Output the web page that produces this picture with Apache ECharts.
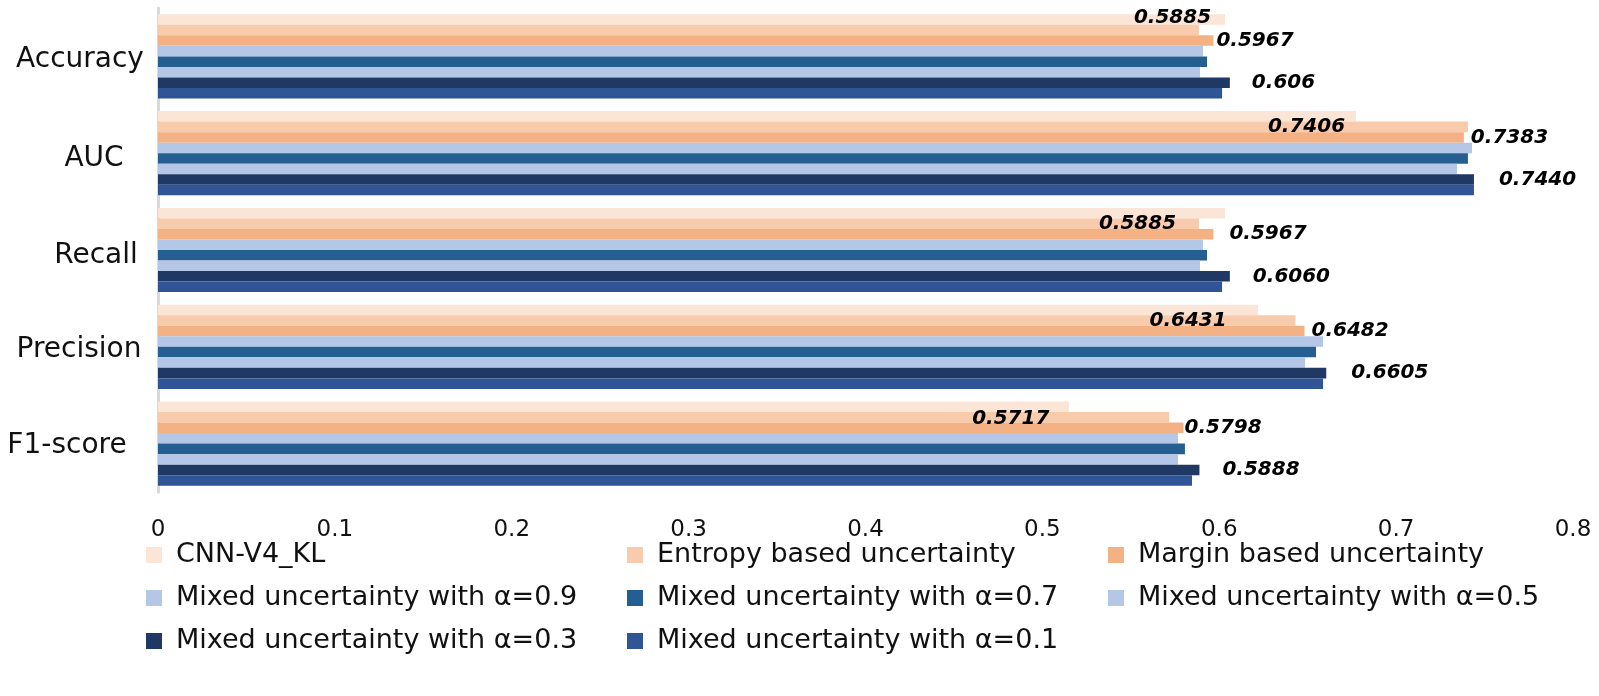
<!DOCTYPE html>
<html>
<head>
<meta charset="utf-8">
<script src="https://cdn.jsdelivr.net/npm/echarts@6/dist/echarts.min.js"></script>
<style>
html,body{margin:0;padding:0;background:#fff;}
#chart{width:1599px;height:696px;}
</style>
</head>
<body>
<div id="chart"></div>
<script>
const categories = ['Accuracy', 'AUC', 'Recall', 'Precision', 'F1-score'];
const seriesNames = ['CNN-V4_KL', 'Entropy based uncertainty', 'Margin based uncertainty',
  'Mixed uncertainty with α=0.9', 'Mixed uncertainty with α=0.7', 'Mixed uncertainty with α=0.5',
  'Mixed uncertainty with α=0.3', 'Mixed uncertainty with α=0.1'];
const cnnValues     = [0.6033, 0.6773, 0.6033, 0.6219, 0.5150];
const entropyValues = [0.5885, 0.7406, 0.5885, 0.6431, 0.5717];
const marginValues  = [0.5967, 0.7383, 0.5967, 0.6482, 0.5798];
const a09Values     = [0.5908, 0.7429, 0.5908, 0.6587, 0.5767];
const a07Values     = [0.5931, 0.7406, 0.5931, 0.6547, 0.5806];
const a05Values     = [0.5891, 0.7344, 0.5891, 0.6485, 0.5767];
const a03Values     = [0.6060, 0.7440, 0.6060, 0.6605, 0.5888];
const a01Values     = [0.6016, 0.7440, 0.6016, 0.6587, 0.5846];
const entropyLabels = ['0.5885', '0.7406', '0.5885', '0.6431', '0.5717'];
const marginLabels  = ['0.5967', '0.7383', '0.5967', '0.6482', '0.5798'];
const a03Labels     = ['0.606', '0.7440', '0.6060', '0.6605', '0.5888'];
const xTicks = { min: 0, max: 0.8, interval: 0.1 };

// styling (not data)
const colors = ['#FBE5D6', '#F8CBAD', '#F4B183', '#B4C7E7', '#255E91', '#B4C7E7', '#203864', '#2F5597'];
const entropyOffsets = [[-65, -12], [-200, 0], [-100, 0], [-146, 0], [-197, 2]];
const marginOffsets  = [[3, 0], [7, 0], [16, 0], [7, 0], [1, 0]];
const a03Offsets     = [[22, 0], [25, 0], [23, 0], [25, 0], [23, 0]];
// per-category label nudges [dx, dy] to mimic the reference placement
const catLabelShift = [[-5, 3], [9, 6], [11, 6], [-6, 3], [-18, 2]];

const allValues = [cnnValues, entropyValues, marginValues, a09Values, a07Values, a05Values, a03Values, a01Values];
const labelTexts = {1: entropyLabels, 2: marginLabels, 6: a03Labels};
const labelOffsets = {1: entropyOffsets, 2: marginOffsets, 6: a03Offsets};

const labelStyle = {
  fontFamily: 'DejaVu Sans', fontWeight: 'bold', fontStyle: 'italic',
  fontSize: 20, color: '#000'
};

const series = allValues.map((vals, si) => ({
  name: seriesNames[si],
  type: 'bar',
  barGap: '0%',
  barCategoryGap: '13%',
  itemStyle: { color: colors[si] },
  data: vals.map((v, ci) => {
    const item = { value: v };
    if (labelTexts[si]) {
      const txt = labelTexts[si][ci];
      item.label = Object.assign({
        show: true, position: 'right', distance: 0, align: 'left',
        offset: labelOffsets[si][ci],
        formatter: () => txt
      }, labelStyle);
    }
    return item;
  })
}));

const legendFont = { fontFamily: 'DejaVu Sans', fontSize: 27, color: '#111', width: 431, padding: [0, 0, 0, 9], lineHeight: 30 };
const legendRows = [[0, 1, 2], [3, 4, 5], [6, 7]];
const legendTops = [540, 583, 626];
const legends = legendRows.map((row, ri) => ({
  left: 146, top: legendTops[ri], orient: 'horizontal', padding: 0,
  itemWidth: 16, itemHeight: 16, itemGap: 20, icon: 'rect',
  selectedMode: false,
  data: row.map(i => seriesNames[i]),
  textStyle: legendFont
}));

const rich = {};
catLabelShift.forEach((s, i) => {
  const dx = s[0], dy = s[1];
  rich['c' + i] = {
    fontFamily: 'DejaVu Sans', fontSize: 28, color: '#111',
    padding: [Math.max(0, 2 * dy), Math.max(0, -2 * dx), Math.max(0, -2 * dy), Math.max(0, 2 * dx)]
  };
});

const chart = echarts.init(document.getElementById('chart'), null, { renderer: 'canvas' });
chart.setOption({
  animation: false,
  color: colors,
  grid: { left: 158, right: 26, top: 8, bottom: 204, containLabel: false },
  legend: legends,
  xAxis: {
    type: 'value', min: xTicks.min, max: xTicks.max, interval: xTicks.interval,
    axisLine: { show: false }, axisTick: { show: false }, splitLine: { show: false },
    axisLabel: { fontFamily: 'DejaVu Sans', fontSize: 23, color: '#111', margin: 27 }
  },
  yAxis: {
    type: 'category', data: categories, inverse: true,
    axisLine: { show: true, lineStyle: { color: '#D9D9D9', width: 3 } },
    axisTick: { show: false },
    axisLabel: {
      fontFamily: 'DejaVu Sans', fontSize: 28, color: '#111', align: 'center', margin: 73,
      formatter: (val, idx) => '{c' + idx + '|' + val + '}',
      rich: rich
    }
  },
  series: series
});
</script>
</body>
</html>
